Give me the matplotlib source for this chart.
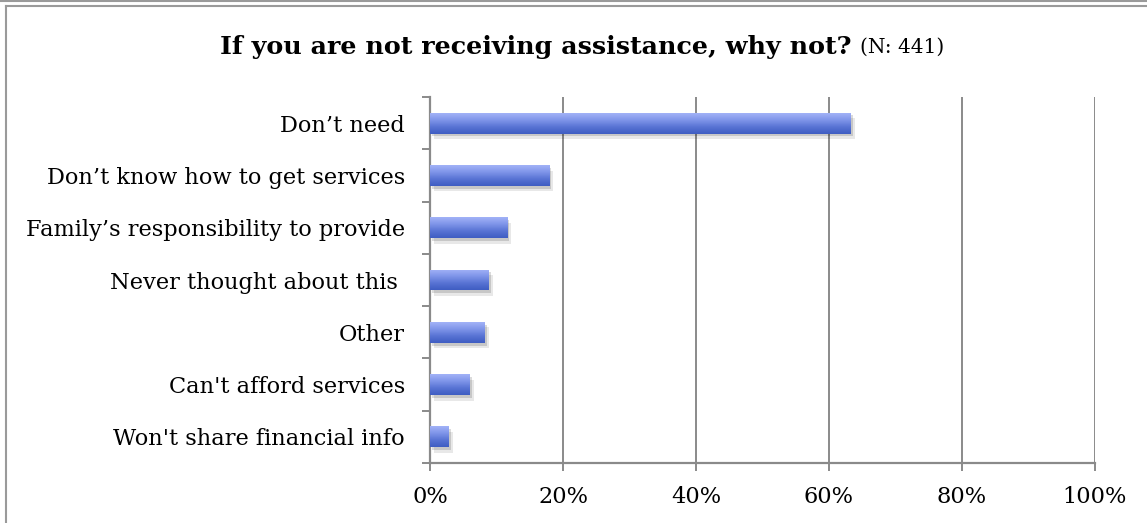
import numpy as np
import matplotlib
matplotlib.use('Agg')
import matplotlib.pyplot as plt
import matplotlib.patheffects as pe
from matplotlib.colors import LinearSegmentedColormap
from matplotlib.lines import Line2D
from matplotlib.ticker import FixedLocator, PercentFormatter

plt.rcParams['font.family'] = ['DejaVu Serif']

reasons = ["Don\u2019t need",
           "Don\u2019t know how to get services",
           "Family\u2019s responsibility to provide",
           "Never thought about this ",
           "Other",
           "Can't afford services",
           "Won't share financial info"]
share = [63.3, 17.9, 11.6, 8.8, 8.2, 6.0, 2.8]
xticks = [0, 20, 40, 60, 80, 100]
title_main = "If you are not receiving assistance, why not?"
title_n = "(N: 441)"

W, H = 1147, 523
fig = plt.figure(figsize=(W / 100, H / 100), dpi=100)

def fx(p):
    return p / W

def fy(p):
    return 1 - p / H

ax = fig.add_axes([fx(430), fy(463), fx(1095) - fx(430), fy(97) - fy(463)])

grey = '#8a8a8a'
n = len(reasons)
ypos = np.arange(n)[::-1]
bar_h = 0.40

# shadowed bars, face filled with a vertical gradient afterwards
bars = ax.barh(ypos, share, height=bar_h, color='none', zorder=2,
               path_effects=[pe.SimplePatchShadow(offset=(1.5, -2), shadow_rgbFace='#000000', alpha=0.14),
                             pe.SimplePatchShadow(offset=(3, -4), shadow_rgbFace='#000000', alpha=0.09),
                             pe.Normal()])

cmap = LinearSegmentedColormap.from_list('barblue', ['#3f5dc2', '#5873d4', '#7f95e9', '#a2b2f7'])
grad = np.linspace(0, 1, 64).reshape(-1, 1)
for b, y, v in zip(bars, ypos, share):
    im = ax.imshow(grad, cmap=cmap, aspect='auto', origin='lower',
                   extent=(0, v, y - bar_h / 2, y + bar_h / 2), zorder=3, interpolation='bicubic')
    im.set_clip_path(b)

ax.set_xlim(0, 100)
ax.set_ylim(-0.5, n - 0.5)

ax.set_xticks(xticks)
ax.xaxis.set_major_formatter(PercentFormatter(decimals=0))
ax.set_yticks(ypos)
ax.set_yticklabels(reasons)
ax.yaxis.set_minor_locator(FixedLocator(np.arange(-0.5, n, 1.0)))

ax.tick_params(axis='y', which='major', length=0, pad=18, labelsize=16.2)
ax.tick_params(axis='y', which='minor', length=5.8, width=1.4, color=grey, direction='out')
ax.tick_params(axis='x', which='major', length=5.8, width=1.4, color=grey, direction='out',
               pad=11, labelsize=16.2)

ax.grid(axis='x', color=grey, linewidth=1.4)
ax.set_axisbelow(True)
for s in ['top', 'right']:
    ax.spines[s].set_visible(False)
for s in ['left', 'bottom']:
    ax.spines[s].set_color(grey)
    ax.spines[s].set_linewidth(1.6)

# title: bold question followed by the sample size in a lighter face
renderer = fig.canvas.get_renderer()
t1 = fig.text(0, fy(47), title_main, fontsize=18.3, fontweight='bold', va='center', ha='left')
t2 = fig.text(0, fy(47), title_n, fontsize=14.5, va='center', ha='left')
w1 = t1.get_window_extent(renderer).width
w2 = t2.get_window_extent(renderer).width
gap = 8
x0 = 582 - (w1 + gap + w2) / 2
t1.set_x(fx(x0))
t2.set_x(fx(x0 + w1 + gap))

# outer frame lines
frame = '#9a9a9a'
fig.add_artist(Line2D([0, 1], [fy(1), fy(1)], transform=fig.transFigure, color=frame, lw=1.5))
fig.add_artist(Line2D([fx(6), 1], [fy(6), fy(6)], transform=fig.transFigure, color=frame, lw=1.5))
fig.add_artist(Line2D([fx(6), fx(6)], [fy(6), 0], transform=fig.transFigure, color=frame, lw=1.5))

fig.savefig('out.png', dpi=100)
